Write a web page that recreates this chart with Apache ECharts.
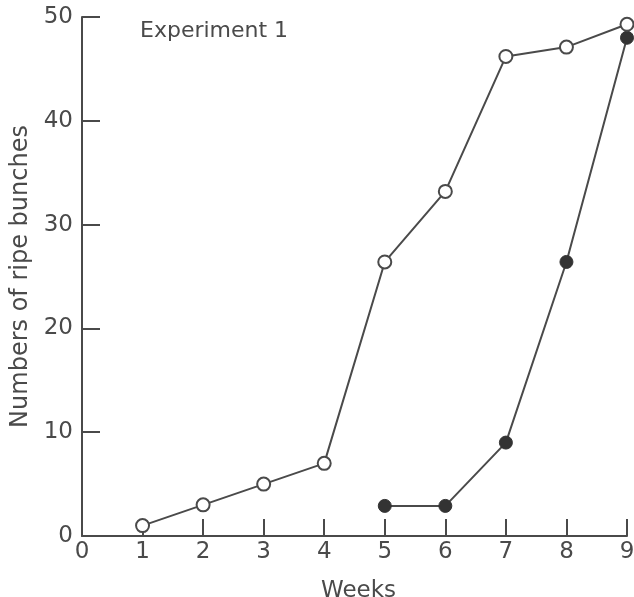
<!DOCTYPE html>
<html><head><meta charset="utf-8">
<script src="https://cdn.jsdelivr.net/npm/echarts@6/dist/echarts.min.js"></script>
<style>html,body{margin:0;padding:0;background:#fff}#c{width:634px;height:597px}</style>
</head><body><div id="c"></div>
<script>
const weeks = [1,2,3,4,5,6,7,8,9];
const openSeries = [1,3,5,7,26.4,33.2,46.2,47.1,49.3];
const filledWeeks = [5,6,7,8,9];
const filledSeries = [2.9,2.9,9,26.4,48.0];
const xTicks = [0,1,2,3,4,5,6,7,8,9];
const yTicks = [0,10,20,30,40,50];

const ink = '#4a4a4a';
const font = 'DejaVu Sans';
const chart = echarts.init(document.getElementById('c'));
chart.setOption({
  backgroundColor:'#fff',
  animation:false,
  grid:{left:82,top:17,right:7,bottom:61,containLabel:false,outerBoundsMode:'none'},
  title:{text:'Experiment 1',left:140,top:20,padding:0,textStyle:{fontFamily:font,fontWeight:'normal',fontSize:22,color:ink}},
  xAxis:{type:'value',min:0,max:9,interval:1,
    name:'Weeks',nameLocation:'middle',nameGap:44,
    nameTextStyle:{fontFamily:font,fontSize:23,color:ink,padding:[0,0,0,8]},
    axisLine:{show:true,lineStyle:{color:ink,width:2}},
    axisTick:{show:true,inside:true,length:17,lineStyle:{color:ink,width:2}},
    axisLabel:{fontFamily:font,fontSize:23,color:ink,margin:5,showMaxLabel:true,showMinLabel:true},
    splitLine:{show:false}},
  yAxis:{type:'value',min:0,max:50,interval:10,
    name:'Numbers of ripe bunches',nameLocation:'middle',nameGap:49,
    nameTextStyle:{fontFamily:font,fontSize:24,color:ink},
    axisLine:{show:true,lineStyle:{color:ink,width:2}},
    axisTick:{show:true,inside:true,length:18,lineStyle:{color:ink,width:2}},
    axisLabel:{fontFamily:font,fontSize:23,color:ink,margin:9},
    splitLine:{show:false}},
  series:[
    {type:'line',data:weeks.map((w,i)=>[w,openSeries[i]]),clip:false,
     symbol:'circle',symbolSize:13,showAllSymbol:true,
     lineStyle:{color:ink,width:2},itemStyle:{color:'#fff',borderColor:ink,borderWidth:2},z:3},
    {type:'line',data:filledWeeks.map((w,i)=>[w,filledSeries[i]]),clip:false,
     symbol:'circle',symbolSize:13,showAllSymbol:true,
     lineStyle:{color:ink,width:2},itemStyle:{color:'#333',borderColor:'#333',borderWidth:1},z:2}
  ]
});
</script></body></html>
